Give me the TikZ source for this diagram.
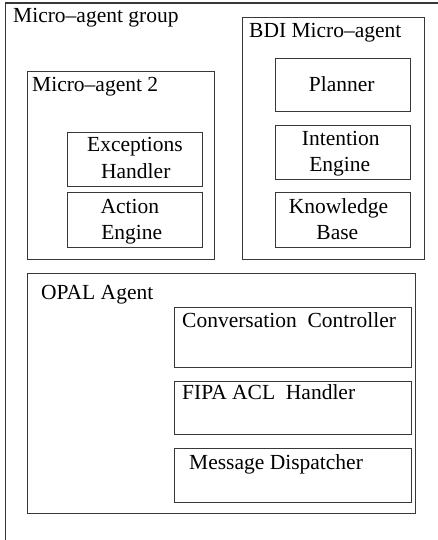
\documentclass[tikz,border=0pt]{standalone}
\usepackage{fontspec}
\setmainfont{Liberation Serif}
\begin{document}
\begin{tikzpicture}[x=1pt,y=-1pt,
  frame/.style={draw=black!78,line width=1.1pt},
  box/.style={frame,rectangle,inner sep=0pt,anchor=north west},
  lbl/.style={inner sep=0pt,anchor=base west,font=\fontsize{21.5}{25}\selectfont},
  clbl/.style={inner sep=0pt,anchor=base,font=\fontsize{21.5}{25}\selectfont}]
\useasboundingbox (0,0) rectangle (438,540);
\fill[white] (0,0) rectangle (438,540);

% group frame (runs off the right and bottom edges)
\coordinate (gbl) at (5.5,560);
\coordinate (gtl) at (5.5,3);
\coordinate (gtr) at (460,3);
\draw[frame] (gbl) -- (gtl) -- (gtr);
\node[lbl] (glabel) at (13,23) {Micro–agent group};

% BDI micro-agent
\node[box,minimum width=182pt,minimum height=242pt] (bdi) at (242,17) {};
\node[lbl] (bdilabel) at (249,38) {BDI Micro–agent};
\node[box,minimum width=135pt,minimum height=53pt] (planner) at (275,58) {};
\node[clbl] (plannert) at (341.7,91.7) {Planner};
\node[box,minimum width=135pt,minimum height=54pt] (intent) at (275,125) {};
\node[clbl] (intentt1) at (340.8,145.5) {Intention};
\node[clbl] (intentt2) at (339.7,171.5) {Engine};
\node[box,minimum width=135pt,minimum height=55pt] (kb) at (275,192) {};
\node[clbl] (kbt1) at (338.5,213.3) {Knowledge};
\node[clbl] (kbt2) at (337.3,239.3) {Base};

% micro-agent 2
\node[box,minimum width=187pt,minimum height=188pt] (ma2) at (27,71) {};
\node[lbl] (ma2label) at (32,92) {Micro–agent 2};
\node[box,minimum width=135pt,minimum height=54pt] (exc) at (67,132) {};
\node[clbl] (exct1) at (135,151.7) {Exceptions};
\node[clbl] (exct2) at (135.8,178.5) {Handler};
\node[box,minimum width=135pt,minimum height=55pt] (act) at (67,192) {};
\node[clbl] (actt1) at (129.8,213.3) {Action};
\node[clbl] (actt2) at (131.7,239.3) {Engine};

% OPAL agent
\node[box,minimum width=388pt,minimum height=240pt] (opal) at (27,273) {};
\node[lbl] (opallabel) at (41,299) {OPAL Agent};
\node[box,minimum width=237pt,minimum height=60pt] (conv) at (174,307) {};
\node[lbl] (convt) at (182,327.5) {Conversation\ \ Controller};
\node[box,minimum width=237pt,minimum height=53pt] (fipa) at (174,381) {};
\node[lbl] (fipat) at (182,399.5) {FIPA ACL\ \ Handler};
\node[box,minimum width=237pt,minimum height=54pt] (disp) at (174,448) {};
\node[lbl] (dispt) at (189,469.5) {Message Dispatcher};
\end{tikzpicture}
\end{document}
